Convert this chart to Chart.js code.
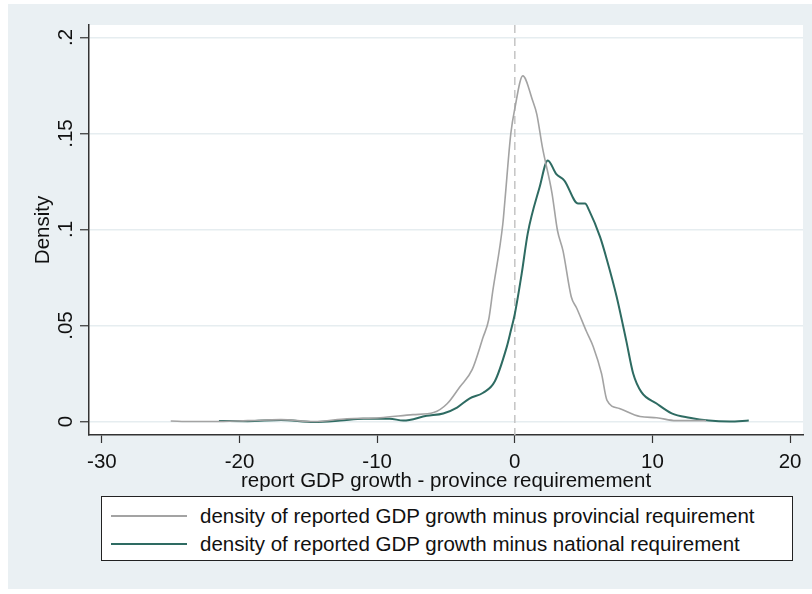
<!DOCTYPE html>
<html lang="en">
<head>
<meta charset="UTF-8">
<title>Density of reported GDP growth minus requirement</title>
<script src="https://cdn.jsdelivr.net/npm/chart.js"></script>
<style>
    html, body { margin: 0; padding: 0; background: #fff; }
    #frame { position: absolute; left: 8px; top: 4px; width: 804px; height: 585px; background: #eaf0f3; }
    #wrap { position: absolute; left: 0; top: 0; width: 812px; height: 594px; }
    #legend {
        position: absolute; left: 101px; top: 496px; width: 690px; height: 63px;
        background: #fff; border: 1px solid #222;
        font-family: "Liberation Sans", Arial, sans-serif; font-size: 20.5px; color: #111;
    }
    .row { position: absolute; left: 0; height: 26px; display: flex; align-items: center; white-space: nowrap; }
    .swatch { width: 76px; margin-left: 9px; margin-right: 13px; height: 0; border-top: 2px solid; }
</style>
</head>
<body>
<div id="frame"></div>
<div id="wrap"><canvas id="densityChart" width="812" height="594"></canvas></div>
<div id="legend">
    <div class="row" style="top:6px"><span class="swatch" style="border-color:#a3a3a3"></span>density of reported GDP growth minus provincial requirement</div>
    <div class="row" style="top:34px"><span class="swatch" style="border-color:#2e6b62"></span>density of reported GDP growth minus national requirement</div>
</div>

<script>
// provincial requirement curve (gray)
const provX = [-25.0, -23.5, -21.9, -19.4, -17.0, -14.6, -12.2, -9.8, -7.4, -5.9, -4.9, -4.0, -3.1, -2.3, -1.9, -1.6,
    -0.87, -0.72, -0.29, 0.0, 0.58, 1.3, 1.6, 2.0, 2.7, 3.1, 3.5, 4.1, 4.5, 5.2, 5.7, 6.3, 6.7, 7.6, 9.1, 10.3, 11.7, 12.9, 13.9];
const provDensity = [0.0003, 0.0, 0.0, 0.0005, 0.001, 0.0, 0.0015, 0.002, 0.0036, 0.0047, 0.0094, 0.018, 0.027, 0.044, 0.053, 0.068,
    0.103, 0.115, 0.150, 0.163, 0.180, 0.167, 0.160, 0.143, 0.119, 0.0995, 0.089, 0.065, 0.059, 0.047, 0.039, 0.025, 0.011, 0.0068, 0.0026, 0.002, 0.0005, 0.0005, 0.0005];

// national requirement curve (green)
const natX = [-21.5, -19.4, -17.0, -14.6, -12.7, -11.0, -9.1, -8.1, -6.4, -5.2, -4.2, -3.3, -2.3, -1.45, -0.6, -0.3, 0.0,
    0.5, 0.94, 1.8, 2.4, 3.0, 3.6, 4.6, 5.1, 5.4, 6.2, 6.7, 7.4, 8.1, 8.6, 9.2, 10.3, 11.4, 12.7, 14.1, 15.6, 17.0];
const natDensity = [0.0003, 0.0002, 0.0008, -0.0002, 0.0005, 0.0015, 0.0015, 0.0005, 0.003, 0.0042, 0.0073, 0.012, 0.015, 0.021, 0.0385, 0.047, 0.056,
    0.077, 0.098, 0.122, 0.136, 0.129, 0.1255, 0.1135, 0.1135, 0.110, 0.096, 0.084, 0.065, 0.042, 0.025, 0.0153, 0.0094, 0.0043, 0.002, 0.0005, 0.0, 0.0005];

const xTicks = [-30, -20, -10, 0, 10, 20];
const yTicks = [0, 0.05, 0.1, 0.15, 0.2];
const yTickLabels = ['0', '.05', '.1', '.15', '.2'];
const refLineX = 0;

const FONT = '"Liberation Sans", Arial, sans-serif';

function toPoints(xs, ys) {
    return xs.map((x, i) => ({ x: x, y: ys[i] }));
}

// white plot region, dashed reference line, rotated y labels
const stataLook = {
    id: 'stataLook',
    beforeDraw(chart) {
        const { ctx, chartArea: a } = chart;
        ctx.save();
        ctx.fillStyle = '#fff';
        ctx.fillRect(a.left, a.top, a.right - a.left, a.bottom - a.top);
        ctx.restore();
    },
    beforeDatasetsDraw(chart) {
        const { ctx, chartArea: a, scales } = chart;
        const px = scales.x.getPixelForValue(refLineX);
        ctx.save();
        ctx.strokeStyle = '#c4c4c4';
        ctx.lineWidth = 1.5;
        ctx.setLineDash([8, 5]);
        ctx.beginPath();
        ctx.moveTo(px, a.top);
        ctx.lineTo(px, a.bottom);
        ctx.stroke();
        ctx.restore();
    },
    afterDraw(chart) {
        const { ctx, scales } = chart;
        ctx.save();
        ctx.fillStyle = '#111';
        ctx.font = '20.5px ' + FONT;
        ctx.textAlign = 'center';
        ctx.textBaseline = 'middle';
        yTicks.forEach((v, i) => {
            const py = scales.y.getPixelForValue(v);
            ctx.save();
            ctx.translate(66, py);
            ctx.rotate(-Math.PI / 2);
            ctx.fillText(yTickLabels[i], 0, 0);
            ctx.restore();
        });
        ctx.restore();
    }
};

new Chart(document.getElementById('densityChart'), {
    type: 'line',
    data: {
        datasets: [
            {
                label: 'density of reported GDP growth minus provincial requirement',
                data: toPoints(provX, provDensity),
                borderColor: '#a3a3a3',
                borderWidth: 1.6,
                pointRadius: 0,
                cubicInterpolationMode: 'monotone'
            },
            {
                label: 'density of reported GDP growth minus national requirement',
                data: toPoints(natX, natDensity),
                borderColor: '#2e6b62',
                borderWidth: 2,
                pointRadius: 0,
                cubicInterpolationMode: 'monotone'
            }
        ]
    },
    options: {
        responsive: false,
        animation: false,
        layout: { padding: { left: 0, top: 25, right: 9, bottom: 99 } },
        plugins: { legend: { display: false }, tooltip: { enabled: false } },
        scales: {
            x: {
                type: 'linear',
                min: -30.94,
                max: 20.94,
                afterBuildTicks: s => { s.ticks = xTicks.map(v => ({ value: v })); },
                afterFit: s => { s.height = 60; },
                ticks: { font: { family: FONT, size: 20.5 }, color: '#111', padding: 7, maxRotation: 0 },
                grid: { drawOnChartArea: false, tickLength: 8, tickColor: '#333', tickWidth: 1.2 },
                border: { color: '#333', width: 1.5 },
                title: {
                    display: true,
                    text: 'report GDP growth - province requiremement',
                    font: { family: FONT, size: 20.5 },
                    color: '#111',
                    padding: { top: 0, bottom: 1 }
                }
            },
            y: {
                min: -0.007,
                max: 0.2065,
                afterBuildTicks: s => { s.ticks = yTicks.map(v => ({ value: v })); },
                afterFit: s => { s.width = 89; },
                ticks: { display: false },
                grid: { color: '#e6edf0', lineWidth: 1.5, tickLength: 9, tickColor: '#333', tickWidth: 1.2 },
                border: { color: '#333', width: 1.5 },
                title: {
                    display: true,
                    text: 'Density',
                    font: { family: FONT, size: 20.5 },
                    color: '#111',
                    padding: { top: 31, bottom: 0 }
                }
            }
        }
    },
    plugins: [stataLook]
});
</script>
</body>
</html>
